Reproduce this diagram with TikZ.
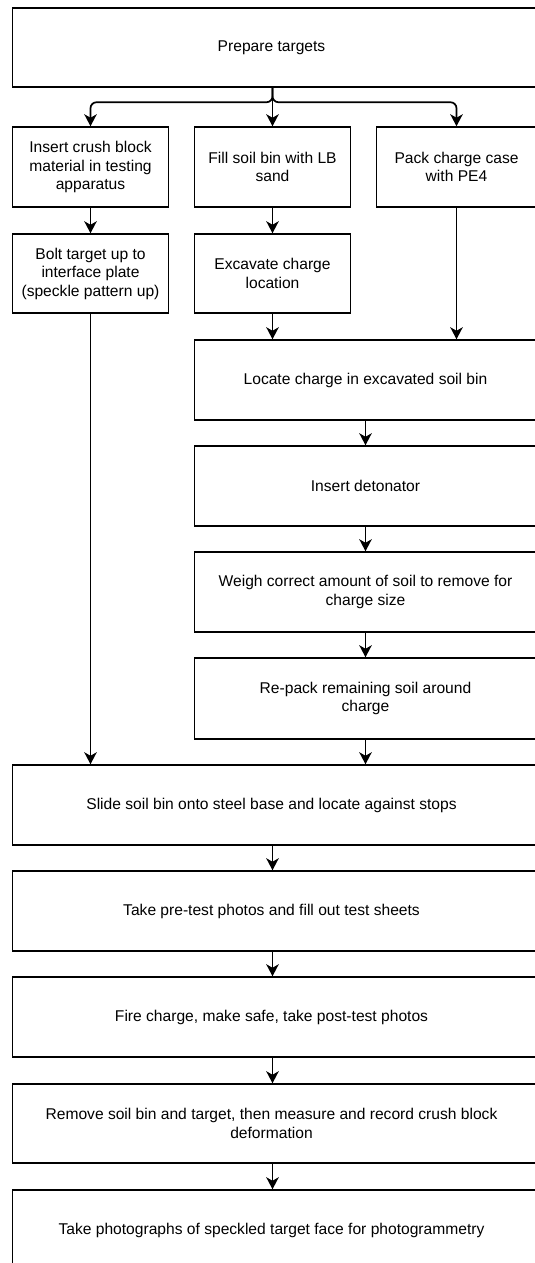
\documentclass[tikz,border=0pt]{standalone}
\usepackage{fontspec}
\setmainfont{Liberation Sans}
\usetikzlibrary{arrows.meta,positioning,calc}
\tikzset{
  box/.style={draw=black, line width=1.5pt, rectangle, align=center, inner sep=0pt,
    font=\fontsize{15.6}{18.5}\selectfont},
  arr/.style={draw=black, line width=1.7pt, -{Stealth[length=12pt,width=12.5pt,inset=3.5pt]}},
  lbl/.style={font=\fontsize{15.6}{18.5}\selectfont, align=center, inner sep=0pt}
}
\begin{document}
\begin{tikzpicture}[x=1pt,y=-1pt]
\useasboundingbox (0,0) rectangle (535,1263);
\clip (0,0) rectangle (535,1263);
% top
\node[box, minimum width=524pt, minimum height=79pt, label={[lbl,xshift=-3pt]center:Prepare targets}] (T0) at (274.5,47.5) {};
% row 2
\node[box, minimum width=156pt, minimum height=80pt] (A) at (90.5,167) {Insert crush block\\material in testing\\apparatus};
\node[box, minimum width=156pt, minimum height=80pt] (B) at (272.5,167) {Fill soil bin with LB\\sand};
\node[box, minimum width=160pt, minimum height=80pt] (C) at (456.5,167) {Pack charge case\\with PE4};
% row 3
\node[box, minimum width=156pt, minimum height=79pt] (A2) at (90.5,273.5) {Bolt target up to\\interface plate\\(speckle pattern up)};
\node[box, minimum width=156pt, minimum height=79pt] (B2) at (272.5,273.5) {Excavate charge\\location};
% right column
\node[box, minimum width=342pt, minimum height=80pt] (Loc) at (365.5,380) {Locate charge in excavated soil bin};
\node[box, minimum width=342pt, minimum height=80pt] (Ins) at (365.5,486) {Insert detonator};
\node[box, minimum width=342pt, minimum height=80pt] (Wei) at (365.5,592) {Weigh correct amount of soil to remove for\\charge size};
\node[box, minimum width=342pt, minimum height=81pt] (Rep) at (365.5,698.5) {Re-pack remaining soil around\\charge};
% full width
\node[box, minimum width=524pt, minimum height=80pt, label={[lbl,xshift=-3pt]center:Slide soil bin onto steel base and locate against stops}] (Sli) at (274.5,805) {};
\node[box, minimum width=524pt, minimum height=80pt, label={[lbl,xshift=-3pt]center:Take pre-test photos and fill out test sheets}] (Pre) at (274.5,911) {};
\node[box, minimum width=524pt, minimum height=80pt, label={[lbl,xshift=-3pt]center:Fire charge, make safe, take post-test photos}] (Fir) at (274.5,1017) {};
\node[box, minimum width=524pt, minimum height=79pt, label={[lbl,xshift=-3pt]center:{Remove soil bin and target, then measure and record crush block\\deformation}}] (Rem) at (274.5,1123.5) {};
\node[box, minimum width=524pt, minimum height=80pt, label={[lbl,xshift=-3pt]center:Take photographs of speckled target face for photogrammetry}] (Pho) at (274.5,1230) {};
% connectors
\coordinate (split) at ($(T0.south -| B.north)+(0,14.5)$);
\draw[arr] (T0.south -| B.north) -- (B.north);
\draw[arr, rounded corners=6pt] (T0.south -| B.north) -- (split) -| (A.north);
\draw[arr, rounded corners=6pt] (T0.south -| B.north) -- (split) -| (C.north);
\draw[arr] (A.south) -- (A2.north);
\draw[arr] (B.south) -- (B2.north);
\draw[arr] (C.south) -- (C.south |- Loc.north);
\draw[arr] (B2.south) -- (B2.south |- Loc.north);
\draw[arr] (Loc.south) -- (Ins.north);
\draw[arr] (Ins.south) -- (Wei.north);
\draw[arr] (Wei.south) -- (Rep.north);
\draw[arr] (A2.south) -- (A2.south |- Sli.north);
\draw[arr] (Rep.south) -- (Rep.south |- Sli.north);
\draw[arr] (Sli.south -| B.south) -- (Pre.north -| B.south);
\draw[arr] (Pre.south -| B.south) -- (Fir.north -| B.south);
\draw[arr] (Fir.south -| B.south) -- (Rem.north -| B.south);
\draw[arr] (Rem.south -| B.south) -- (Pho.north -| B.south);
\end{tikzpicture}
\end{document}
